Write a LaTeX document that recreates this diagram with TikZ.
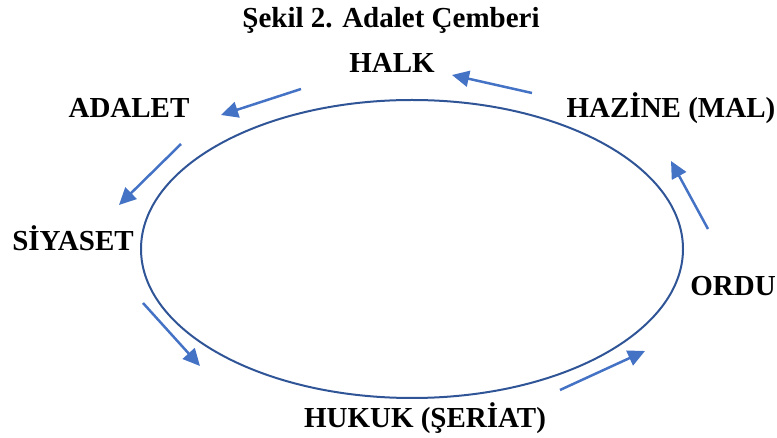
\documentclass[tikz,border=0pt]{standalone}
\usepackage{fontspec}
\setmainfont{Liberation Serif}
\usetikzlibrary{arrows.meta}
\definecolor{ringblue}{HTML}{2F5597}
\definecolor{flowblue}{HTML}{4472C4}
\tikzset{
  lbl/.style={anchor=base, inner sep=0pt, font=\fontsize{29}{30}\selectfont\bfseries},
  flow/.style={draw=flowblue, line width=2.5pt, -{Triangle[length=17pt,width=16pt]}},
  ring/.style={draw=ringblue, line width=2pt}
}
\begin{document}
\begin{tikzpicture}[x=1pt,y=-1pt]
  \useasboundingbox (0,0) rectangle (777,438);
  % title
  \node[lbl] (title) at (391,28) {Şekil 2. Adalet Çemberi};
  % the circle of justice
  \draw[ring] (412,249) ellipse [x radius=271, y radius=149];
  % stations around the circle
  \node[lbl] (halk)    at (392,73)  {HALK};
  \node[lbl] (adalet)  at (129,118) {ADALET};
  \node[lbl] (siyaset) at (73,251)  {SİYASET};
  \node[lbl] (hukuk)   at (425,428) {HUKUK (ŞERİAT)};
  \node[lbl] (ordu)    at (733,296) {ORDU};
  \node[lbl] (hazine)  at (671,118) {HAZİNE (MAL)};
  % arrow end points
  \coordinate (a1s) at (532,93);  \coordinate (a1e) at (452,75);
  \coordinate (a2s) at (301,89);  \coordinate (a2e) at (221,115);
  \coordinate (a3s) at (181,144); \coordinate (a3e) at (119,205);
  \coordinate (a4s) at (143,303); \coordinate (a4e) at (200,366);
  \coordinate (a5s) at (560,390); \coordinate (a5e) at (645,351);
  \coordinate (a6s) at (708,229); \coordinate (a6e) at (671,161);
  % flow arrows
  \draw[flow] (a1s) -- (a1e);
  \draw[flow] (a2s) -- (a2e);
  \draw[flow] (a3s) -- (a3e);
  \draw[flow] (a4s) -- (a4e);
  \draw[flow] (a5s) -- (a5e);
  \draw[flow] (a6s) -- (a6e);
\end{tikzpicture}
\end{document}
